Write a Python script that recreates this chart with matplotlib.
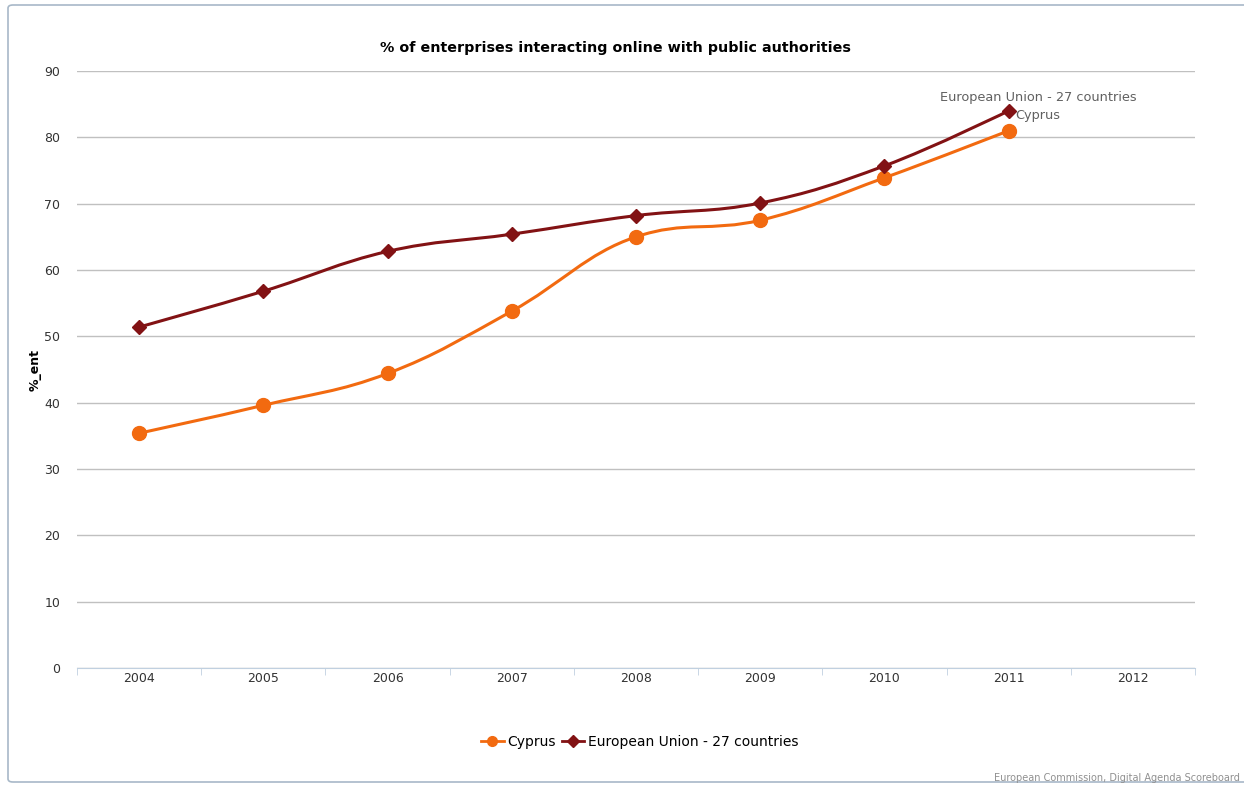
import numpy as np
import matplotlib.pyplot as plt
from matplotlib.path import Path
from matplotlib.patches import PathPatch, FancyBboxPatch

# data
years = ['2004', '2005', '2006', '2007', '2008', '2009', '2010', '2011', '2012']
cyprus = [35.4, 39.6, 44.4, 53.8, 65.0, 67.5, 73.9, 81.0]
eu27 = [51.4, 56.8, 62.8, 65.4, 68.2, 70.1, 75.7, 84.0]

cy_color = '#F26A10'
eu_color = '#821214'


def spline_path(ys):
    # highcharts-like spline through the points
    xs = np.arange(len(ys), dtype=float)
    ys = np.asarray(ys, dtype=float)
    n = len(ys)
    lc = [(xs[i], ys[i]) for i in range(n)]
    rc = [(xs[i], ys[i]) for i in range(n)]
    sm, den = 1.5, 2.5
    for i in range(1, n - 1):
        lx = (sm * xs[i] + xs[i - 1]) / den
        ly = (sm * ys[i] + ys[i - 1]) / den
        rx = (sm * xs[i] + xs[i + 1]) / den
        ry = (sm * ys[i] + ys[i + 1]) / den
        corr = (ry - ly) * (rx - xs[i]) / (rx - lx) + ys[i] - ry
        ly += corr
        ry += corr
        if ly > ys[i - 1] and ly > ys[i]:
            ly = max(ys[i - 1], ys[i]); ry = 2 * ys[i] - ly
        elif ly < ys[i - 1] and ly < ys[i]:
            ly = min(ys[i - 1], ys[i]); ry = 2 * ys[i] - ly
        if ry > ys[i + 1] and ry > ys[i]:
            ry = max(ys[i + 1], ys[i]); ly = 2 * ys[i] - ry
        elif ry < ys[i + 1] and ry < ys[i]:
            ry = min(ys[i + 1], ys[i]); ly = 2 * ys[i] - ry
        lc[i] = (lx, ly)
        rc[i] = (rx, ry)
    verts = [(xs[0], ys[0])]
    codes = [Path.MOVETO]
    for i in range(1, n):
        verts += [rc[i - 1], lc[i], (xs[i], ys[i])]
        codes += [Path.CURVE4] * 3
    return Path(verts, codes)


fig = plt.figure(figsize=(12.44, 7.86), dpi=100)
fig.patches.append(FancyBboxPatch((8 / 1244, 4 / 786), 1250 / 1244, 777 / 786,
                                  boxstyle='round,pad=0,rounding_size=0.004',
                                  transform=fig.transFigure, fill=False,
                                  edgecolor='#A8B8C8', linewidth=1.2))

ax = fig.add_axes([77 / 1244, 1 - 668 / 786, 1118 / 1244, 597 / 786])
x = np.arange(len(years))

for ys, col in [(cyprus, cy_color), (eu27, eu_color)]:
    ax.add_patch(PathPatch(spline_path(ys), facecolor='none', edgecolor=col,
                           linewidth=2.2, zorder=3))

ax.plot(x[:len(cyprus)], cyprus, 'o', color=cy_color, markersize=10, zorder=4)
ax.plot(x[:len(eu27)], eu27, 'D', color=eu_color, markersize=7, zorder=4)

ax.set_xlim(-0.5, len(years) - 0.5)
ax.set_ylim(0, 90)
ax.set_yticks(range(0, 91, 10))
ax.set_xticks(x)
ax.set_xticklabels(years)
ax.set_xticks(np.arange(-0.5, len(years), 1), minor=True)
ax.grid(axis='y', color='#C0C0C0', linewidth=1)
ax.set_axisbelow(True)
for s in ['top', 'right', 'left']:
    ax.spines[s].set_visible(False)
ax.spines['bottom'].set_color('#C0D0E0')
ax.tick_params(axis='x', which='major', length=0, pad=3, labelsize=9, labelcolor='#333333')
ax.tick_params(axis='x', which='minor', length=5, color='#C0D0E0')
ax.tick_params(axis='y', length=0, pad=12, labelsize=9, labelcolor='#333333')
ax.set_ylabel('%_ent', fontsize=9, fontweight='bold', labelpad=2)

fig.text(615 / 1244, 1 - 48 / 786,
         '% of enterprises interacting online with public authorities',
         ha='center', va='center', fontsize=10.3, fontweight='bold')

# end labels
ax.annotate('European Union - 27 countries', (x[len(eu27) - 1], eu27[-1]),
            xytext=(21, 9.5), textcoords='offset points', ha='center',
            va='center', fontsize=9.3, color='#606060')
ax.annotate('Cyprus', (x[len(cyprus) - 1], cyprus[-1]),
            xytext=(5, 11), textcoords='offset points', ha='left',
            va='center', fontsize=9.3, color='#606060')

# legend
handles = [plt.Line2D([], [], color=cy_color, marker='o', markersize=7, linewidth=2),
           plt.Line2D([], [], color=eu_color, marker='D', markersize=6, linewidth=2)]
fig.legend(handles, ['Cyprus', 'European Union - 27 countries'], loc='center',
           bbox_to_anchor=(640 / 1244, 1 - 742 / 786), ncol=2, frameon=False,
           fontsize=10, handlelength=1.6, handletextpad=0.3, columnspacing=0.4)

fig.text(1240 / 1244, 1 - 778 / 786, 'European Commission, Digital Agenda Scoreboard',
         ha='right', va='center', fontsize=7, color='#909090')

fig.savefig('out.png', dpi=100)
